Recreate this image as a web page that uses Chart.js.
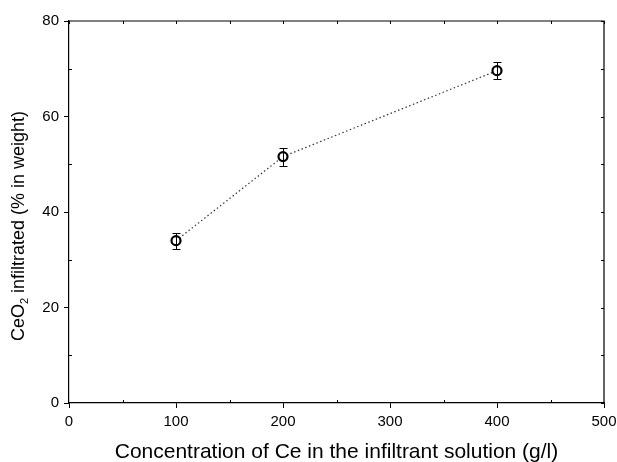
<!DOCTYPE html>
<html>
<head>
<meta charset="utf-8">
<script src="https://cdn.jsdelivr.net/npm/chart.js@4/dist/chart.umd.min.js"></script>
<style>
  html, body { margin: 0; padding: 0; background: #fff; }
  #wrap { width: 617px; height: 462px; position: relative; }
</style>
</head>
<body>
<div id="wrap"><canvas id="ceChart"></canvas></div>
<script>
"use strict";
// data
var concentrations = [100, 200, 400];
var ceo2Weight = [34.0, 51.6, 69.6];
var ceo2Error = [1.7, 1.9, 1.8];
var xTicks = [0, 100, 200, 300, 400, 500];
var yTicks = [0, 20, 40, 60, 80];

var fontName = "'Liberation Sans', Arial, sans-serif";

// error bars drawn through the chart scales
var errorBars = {
    id: "errorBars",
    afterDatasetsDraw: function (chart) {
        var xs = chart.scales.x, ys = chart.scales.y;
        var ctx = chart.ctx;
        ctx.save();
        ctx.strokeStyle = "#000";
        ctx.lineWidth = 1;
        for (var i = 0; i < concentrations.length; i++) {
            var px = Math.round(xs.getPixelForValue(concentrations[i])) + 0.5;
            var top = Math.round(ys.getPixelForValue(ceo2Weight[i] + ceo2Error[i])) + 0.5;
            var bot = Math.round(ys.getPixelForValue(ceo2Weight[i] - ceo2Error[i])) + 0.5;
            ctx.beginPath();
            ctx.moveTo(px, top); ctx.lineTo(px, bot);
            ctx.moveTo(px - 4, top); ctx.lineTo(px + 4, top);
            ctx.moveTo(px - 4, bot); ctx.lineTo(px + 4, bot);
            ctx.stroke();
        }
        ctx.restore();
    }
};

// frame (top/right axes), inward minor ticks and the y title with subscript
var frameTicks = {
    id: "frameTicks",
    afterDraw: function (chart) {
        var a = chart.chartArea, xs = chart.scales.x, ys = chart.scales.y;
        var ctx = chart.ctx;
        ctx.save();
        ctx.strokeStyle = "#000";
        ctx.lineWidth = 1.2;
        ctx.beginPath();
        ctx.moveTo(a.left, a.top); ctx.lineTo(a.right, a.top); ctx.lineTo(a.right, a.bottom);
        ctx.stroke();
        ctx.lineWidth = 1;
        ctx.beginPath();
        var v, p;
        for (v = 0; v <= 500; v += 50) {
            p = Math.round(xs.getPixelForValue(v)) + 0.5;
            if (v % 100 !== 0) { ctx.moveTo(p, a.bottom); ctx.lineTo(p, a.bottom - 3); }
            ctx.moveTo(p, a.top); ctx.lineTo(p, a.top + 3);
        }
        for (v = 0; v <= 80; v += 10) {
            p = Math.round(ys.getPixelForValue(v)) + 0.5;
            if (v % 20 !== 0) { ctx.moveTo(a.left, p); ctx.lineTo(a.left + 3, p); }
            ctx.moveTo(a.right, p); ctx.lineTo(a.right - 3, p);
        }
        ctx.stroke();

        // y axis title: CeO2 infiltrated (% in weight)
        var big = "18px " + fontName, small = "11px " + fontName;
        var part1 = "CeO", sub = "2", part2 = " infiltrated (% in weight)";
        ctx.font = big;
        var w1 = ctx.measureText(part1).width, w3 = ctx.measureText(part2).width;
        ctx.font = small;
        var w2 = ctx.measureText(sub).width;
        var total = w1 + w2 + w3;
        ctx.translate(24, 226);
        ctx.rotate(-Math.PI / 2);
        ctx.fillStyle = "#000";
        ctx.textBaseline = "alphabetic";
        ctx.textAlign = "left";
        var sx = -total / 2;
        ctx.font = big;
        ctx.fillText(part1, sx, 0);
        ctx.font = small;
        ctx.fillText(sub, sx + w1, 4);
        ctx.font = big;
        ctx.fillText(part2, sx + w1 + w2, 0);
        ctx.restore();
    }
};

var ctxEl = document.getElementById("ceChart");
var ceChart = new Chart(ctxEl, {
    type: "scatter",
    data: {
        datasets: [
            {
                label: "CeO2",
                data: concentrations.map(function (c, i) { return { x: c, y: ceo2Weight[i] }; }),
                showLine: true,
                borderColor: "#333",
                borderWidth: 1.2,
                borderDash: [1.5, 2.5],
                pointRadius: 4.5,
                pointBorderWidth: 2.2,
                pointBorderColor: "#000",
                pointBackgroundColor: "#fff",
                pointStyle: "circle",
            },
        ],
    },
    options: {
        responsive: true,
        maintainAspectRatio: false,
        animation: false,
        layout: { padding: { top: 21, right: 13, left: 0, bottom: 0 } },
        plugins: {
            legend: { display: false },
            tooltip: { enabled: false },
        },
        scales: {
            x: {
                type: "linear",
                min: 0,
                max: 500,
                afterBuildTicks: function (s) { s.ticks = xTicks.map(function (v) { return { value: v }; }); },
                afterFit: function (s) { s.height = 59; s.paddingLeft = 0; s.paddingRight = 0; },
                grid: { drawOnChartArea: false, tickLength: 5, tickColor: "#000", tickWidth: 1 },
                border: { color: "#000", width: 1.2 },
                ticks: { color: "#000", font: { family: fontName, size: 15 }, padding: 5, maxRotation: 0 },
                title: {
                    display: true,
                    text: "Concentration of Ce in the infiltrant solution (g/l)",
                    color: "#000",
                    font: { family: fontName, size: 21 },
                    padding: { top: 0, bottom: -3 },
                },
            },
            y: {
                type: "linear",
                min: 0,
                max: 80,
                afterBuildTicks: function (s) { s.ticks = yTicks.map(function (v) { return { value: v }; }); },
                afterFit: function (s) { s.width = 69; s.paddingTop = 0; s.paddingBottom = 0; },
                grid: { drawOnChartArea: false, tickLength: 5, tickColor: "#000", tickWidth: 1 },
                border: { color: "#000", width: 1.2 },
                ticks: { color: "#000", font: { family: fontName, size: 15 }, padding: 5 },
            },
        },
    },
    plugins: [errorBars, frameTicks],
});
</script>
</body>
</html>
